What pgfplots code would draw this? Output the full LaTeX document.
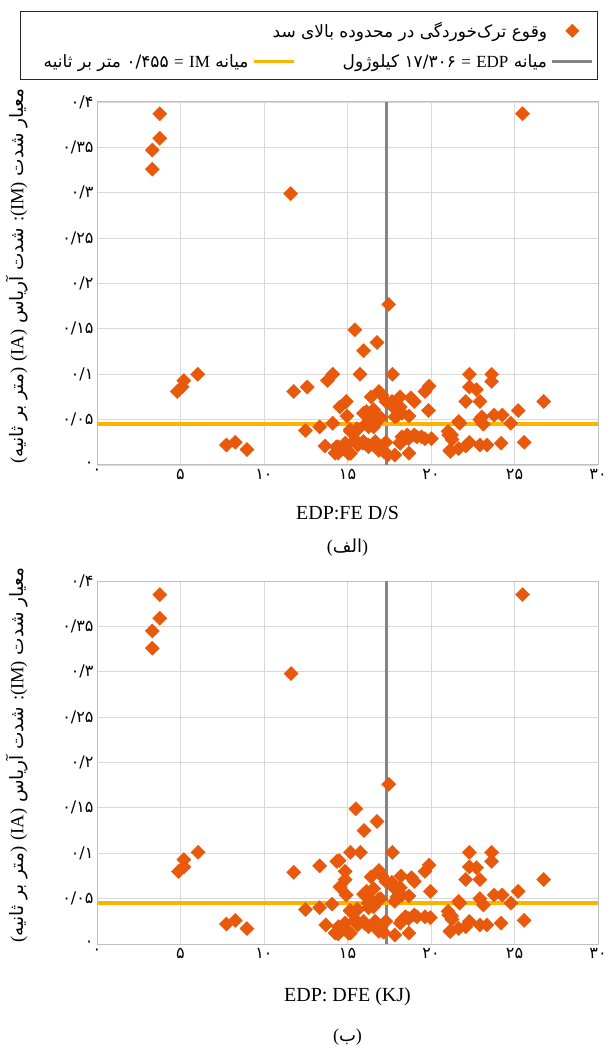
\documentclass[border=0pt]{standalone}
\usepackage{fontspec}
\setmainfont{Liberation Serif}
\newfontfamily\fa[Script=Arabic]{DejaVu Sans}
\usepackage{pgfplots}
\usepackage{pgfplotstable}
\pgfplotsset{compat=1.18}
\TeXXeTstate=1
\definecolor{scat}{HTML}{E8590C}
\definecolor{imline}{HTML}{FFB300}
\definecolor{edpline}{HTML}{858585}
\definecolor{gridc}{HTML}{D9D9D9}
\definecolor{axc}{HTML}{BFBFBF}

\pgfplotstableread{
x y
3.76 0.387
3.76 0.360
3.31 0.347
3.31 0.326
11.59 0.299
25.48 0.387
17.47 0.177
15.44 0.149
16.77 0.135
15.97 0.126
6.03 0.100
5.20 0.093
5.10 0.086
4.80 0.081
14.12 0.100
13.80 0.093
15.75 0.100
17.69 0.100
11.78 0.081
12.59 0.086
16.88 0.081
16.41 0.075
14.54 0.064
14.93 0.070
17.30 0.070
17.73 0.064
18.15 0.075
18.79 0.074
19.00 0.070
19.64 0.081
19.89 0.087
19.85 0.060
22.08 0.070
22.30 0.100
22.30 0.086
22.72 0.083
22.93 0.070
23.63 0.100
23.63 0.092
26.75 0.070
25.22 0.060
23.78 0.055
24.27 0.055
22.93 0.050
23.14 0.045
24.78 0.046
21.72 0.046
21.02 0.037
21.23 0.033
25.58 0.025
24.20 0.024
23.35 0.022
22.93 0.022
22.30 0.025
22.08 0.021
21.66 0.018
21.13 0.016
20.02 0.029
19.64 0.029
19.43 0.031
19.00 0.033
18.58 0.033
18.26 0.031
18.15 0.025
18.68 0.013
17.83 0.011
17.41 0.011
17.30 0.025
16.88 0.016
16.56 0.022
16.24 0.022
15.92 0.024
15.61 0.022
15.18 0.013
14.86 0.020
14.44 0.013
14.33 0.020
13.65 0.021
15.18 0.037
15.61 0.039
16.14 0.046
16.56 0.042
16.14 0.059
16.56 0.061
14.97 0.054
14.12 0.046
13.33 0.042
12.48 0.038
16.99 0.052
17.83 0.053
18.26 0.057
18.68 0.054
18.36 0.029
23.04 0.053
7.75 0.022
8.28 0.025
8.98 0.017
17.06 0.077
18.16 0.064
17.66 0.070
15.96 0.057
16.26 0.053
16.86 0.051
17.96 0.054
15.16 0.039
15.56 0.040
16.26 0.042
16.66 0.046
14.46 0.020
14.26 0.013
15.06 0.013
14.86 0.024
15.46 0.028
15.96 0.026
16.26 0.020
16.66 0.026
16.86 0.018
17.16 0.015
18.66 0.029
19.16 0.031
18.16 0.024
21.06 0.033
21.26 0.028
21.16 0.015
21.66 0.048
}\toptable

\pgfplotstableread{
x y
3.76 0.385
3.76 0.359
3.31 0.345
3.31 0.326
11.62 0.298
25.48 0.385
17.47 0.176
15.50 0.149
16.77 0.135
15.99 0.125
6.05 0.101
5.20 0.093
5.20 0.085
4.88 0.080
11.78 0.079
13.33 0.086
14.50 0.092
15.18 0.101
15.77 0.101
17.69 0.101
16.88 0.081
16.41 0.074
14.86 0.071
14.54 0.063
14.93 0.054
16.14 0.058
16.56 0.061
17.30 0.069
17.73 0.063
18.20 0.075
18.83 0.073
19.00 0.069
19.64 0.080
19.89 0.087
19.96 0.058
22.30 0.101
22.30 0.085
22.72 0.084
22.08 0.071
22.93 0.071
23.63 0.101
23.63 0.091
26.75 0.071
25.22 0.058
23.78 0.054
24.27 0.054
22.93 0.050
23.14 0.043
24.78 0.045
21.72 0.045
21.02 0.036
21.23 0.031
25.58 0.026
24.20 0.023
23.35 0.021
22.93 0.021
22.30 0.025
22.08 0.019
21.66 0.017
21.13 0.014
19.96 0.029
19.64 0.030
19.00 0.032
18.47 0.030
18.26 0.026
18.68 0.012
17.83 0.010
17.30 0.025
16.88 0.014
16.56 0.021
16.03 0.023
15.61 0.021
15.18 0.012
14.76 0.019
14.44 0.011
13.70 0.021
15.18 0.036
15.61 0.038
16.24 0.045
16.56 0.041
14.08 0.044
13.33 0.040
12.48 0.038
16.99 0.050
17.83 0.047
18.26 0.054
18.68 0.053
7.75 0.022
8.28 0.026
8.98 0.017
17.06 0.075
18.16 0.062
17.66 0.068
15.96 0.055
16.26 0.051
16.86 0.049
17.96 0.052
15.16 0.037
15.56 0.038
16.26 0.040
16.66 0.044
14.46 0.019
14.26 0.012
15.06 0.012
14.86 0.023
15.46 0.027
15.96 0.025
16.26 0.019
16.66 0.025
16.86 0.017
17.16 0.013
18.66 0.028
19.16 0.030
18.16 0.023
21.06 0.032
21.26 0.027
21.16 0.014
14.36 0.091
14.86 0.080
21.66 0.047
}\bottable

\pgfplotsset{
  lineleg/.style={legend image code/.code={\draw[##1] (0pt,0pt) -- (40pt,0pt);}},
  markleg/.style={legend image code/.code={\draw[mark repeat=2,mark phase=2,##1] plot coordinates {(0pt,0pt) (20pt,0pt) (40pt,0pt)};}},
  myax/.style={
    scale only axis, width=501pt, height=363pt,
    xmin=0, xmax=30, ymin=0, ymax=0.4,
    xtick={0,5,10,15,20,25,30},
    xticklabels={۰,۵,۱۰,۱۵,۲۰,۲۵,۳۰},
    ytick={0,0.05,0.1,0.15,0.2,0.25,0.3,0.35,0.4},
    yticklabels={۰,۰/۰۵,۰/۱,۰/۱۵,۰/۲,۰/۲۵,۰/۳,۰/۳۵,۰/۴},
    grid=major, major grid style={gridc, line width=0.9pt},
    axis line style={axc, line width=1pt},
    major tick length=0pt,
    tick label style={font=\fontsize{16}{18}\selectfont\fa},
    xticklabel style={yshift=-1pt},
    ylabel={\fa\beginR معیار شدت \beginL{\rmfamily(IM)}\endL{\rmfamily:} شدت آریاس \beginL{\rmfamily(IA)}\endL{} {\rmfamily)}متر بر ثانیه{\rmfamily(}\endR},
    ylabel style={at={(axis description cs:-0.16,0.52)}, anchor=center, font=\fontsize{18.5}{20}\selectfont},
    xlabel style={at={(axis description cs:0.5,0)}, anchor=center, font=\fontsize{20}{22}\selectfont},
  },
  scatstyle/.style={only marks, mark=square*, mark size=5pt, mark options={rotate=45, scat, draw=scat, fill=scat}},
}

\begin{document}
\begin{tikzpicture}
\path[use as bounding box] (0,0) rectangle (616pt,1050pt);

\begin{axis}[myax, name=topax, at={(97pt,585pt)}, anchor=south west,
  xlabel={EDP:FE D/S}, xlabel style={yshift=-48pt},
  legend columns=2, legend plot pos=right,
  legend style={at={(1,1)}, anchor=south east, xshift=0pt, yshift=22pt,
    draw=black!85, line width=0.8pt, fill=white,
    font=\fontsize{17}{19}\selectfont, inner xsep=4pt, inner ysep=9pt, row sep=11pt,
    /tikz/every odd column/.append style={column sep=2pt}},
  ]
\addplot[scatstyle, forget plot] table[x=x,y=y] {\toptable};
\addplot[edpline, line width=3pt, forget plot] coordinates {(17.306,0) (17.306,0.4)};
\addplot[imline, line width=4pt, forget plot] coordinates {(0,0.0455) (30,0.0455)};
\addlegendimage{empty legend}
\addlegendentry{}
\addlegendimage{scatstyle, mark size=4.5pt, markleg}
\addlegendentry{\makebox[250pt][r]{\fa\beginR وقوع ترک‌خوردگی در محدوده بالای سد\endR}}
\addlegendimage{imline, line width=2.5pt, lineleg}
\addlegendentry{\makebox[222pt][r]{\fa\beginR میانه \beginL{\rmfamily IM}\endL{} {\rmfamily =} ۰/۴۵۵ متر بر ثانیه\endR}}
\addlegendimage{edpline, line width=2.5pt, lineleg}
\addlegendentry{\makebox[250pt][r]{\fa\beginR میانه \beginL{\rmfamily EDP}\endL{} {\rmfamily =} ۱۷/۳۰۶ کیلوژول\endR}}
\end{axis}
\node[font=\fontsize{18}{20}\selectfont] at ([yshift=-83pt]topax.south) {({\fa الف})};

\begin{axis}[myax, name=botax, at={(97pt,106pt)}, anchor=south west,
  xlabel={EDP: DFE (KJ)}, xlabel style={yshift=-53pt}]
\addplot[scatstyle] table[x=x,y=y] {\bottable};
\addplot[edpline, line width=3pt] coordinates {(17.306,0) (17.306,0.4)};
\addplot[imline, line width=4pt] coordinates {(0,0.0455) (30,0.0455)};
\end{axis}
\node[font=\fontsize{18}{20}\selectfont] at ([yshift=-93pt]botax.south) {({\fa ب})};
\end{tikzpicture}
\end{document}
